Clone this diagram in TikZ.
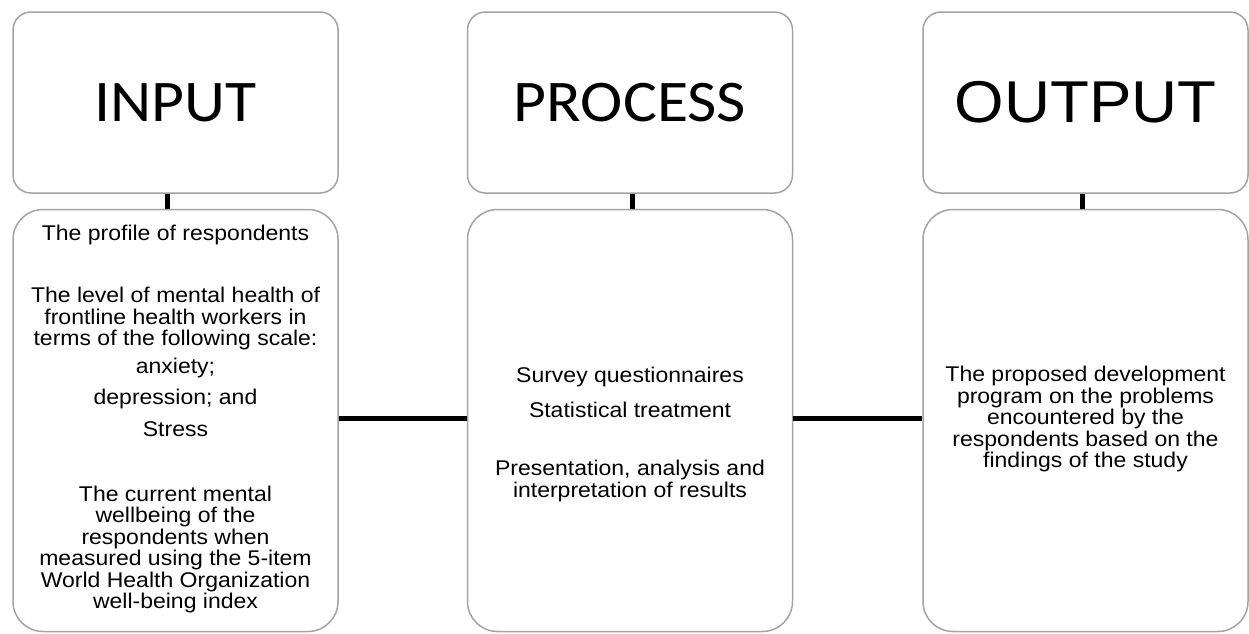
\documentclass[tikz,border=0pt]{standalone}
\usepackage{fontspec}
\setmainfont{Liberation Sans}[FakeStretch=1.08]
\newfontfamily\calibri{Carlito}[FakeStretch=1.08]
\usepackage{tikz}
\usetikzlibrary{positioning}
\definecolor{boxB}{HTML}{a3a3a3}
\definecolor{lnkC}{HTML}{000000}
\newcommand{\bodytxt}{\fontsize{10.65}{10.75}\selectfont}
\newcommand{\headtxt}{\fontsize{29.5}{33}\selectfont}

\begin{document}
\begin{tikzpicture}[x=0.5pt, y=-0.5pt, hd/.style={draw=boxB, line width=0.75pt, rounded corners=9pt, minimum width=162.5pt, minimum height=90.5pt, inner sep=0pt, font=\headtxt}, bx/.style={draw=boxB, line width=0.75pt, rounded corners=15pt, minimum width=162.5pt, minimum height=211pt, inner sep=0pt}, txt/.style={align=center, inner sep=0pt, font=\bodytxt}, lnk/.style={draw=lnkC, line width=2.5pt}]
\useasboundingbox (0,0) rectangle (1249,633);
% heading boxes
\node[hd] (inhd) at (175.5,102.5) {\calibri INPUT};
\node[hd] (prhd) at (630,102.5) {\calibri PROCESS};
\node[hd] (outhd) at (1085.5,102.5) {OUTPUT};
% body boxes
\node[bx, below=7.5pt of inhd] (inbx) {};
\node[bx, below=7.5pt of prhd] (prbx) {};
\node[bx, below=7.5pt of outhd] (outbx) {};
% links
\draw[lnk] ([xshift=-4.25pt]inhd.south) -- ([xshift=-4.25pt]inbx.north);
\draw[lnk] ([xshift=1pt]prhd.south) -- ([xshift=1pt]prbx.north);
\draw[lnk] ([xshift=-1.75pt]outhd.south) -- ([xshift=-1.75pt]outbx.north);
\draw[lnk] ([yshift=1pt]inbx.east) -- ([yshift=1pt]prbx.west);
\draw[lnk] ([yshift=1pt]prbx.east) -- ([yshift=1pt]outbx.west);
% input texts
\node[txt] (in1) at (175.5,235) {The profile of respondents};
\node[txt] (in2) at (175.5,318.5) {The level of mental health of\\frontline health workers in\\terms of the following scale:};
\node[txt] (in3) at (175.5,397) {anxiety;\\[5pt]depression; and\\[5pt]Stress};
\node[txt] (in4) at (175.5,549.5) {The current mental\\wellbeing of the\\respondents when\\measured using the 5-item\\World Health Organization\\well-being index};
% process texts
\node[txt] (pr1) at (630,377) {Survey questionnaires};
\node[txt] (pr2) at (630,410) {Statistical treatment};
\node[txt] (pr3) at (630,481) {Presentation, analysis and\\interpretation of results};
% output text
\node[txt] (out1) at (1085.5,419) {The proposed development\\program on the problems\\encountered by the\\respondents based on the\\findings of the study};
\end{tikzpicture}
\end{document}
